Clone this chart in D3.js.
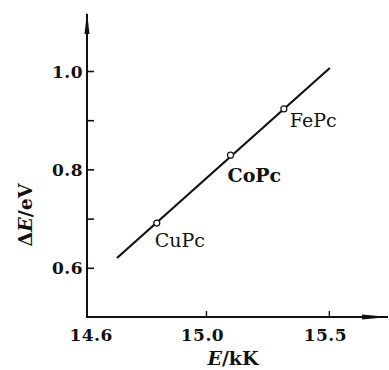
<!DOCTYPE html>
<html><head><meta charset="utf-8">
<script src="https://cdn.jsdelivr.net/npm/d3@7"></script>
<style>html,body{margin:0;padding:0;background:#fff;}svg{display:block;}</style>
</head><body>
<svg id="c" width="389" height="370"></svg>
<script>
const compounds = ["CuPc", "CoPc", "FePc"];
const energyKK = [14.80, 15.10, 15.317];
const deltaE = [0.691, 0.829, 0.923];
const fitX = [14.638, 15.504];
const fitY = [0.620, 1.006];
const xTickValues = [14.6, 15.0, 15.5];
const xTickLabels = ["14.6", "15.0", "15.5"];
const yTickValues = [0.6, 0.7, 0.8, 0.9, 1.0];
const yTickLabels = ["0.6", "", "0.8", "", "1.0"];

const svg = d3.select("#c");
const ink = "#111";
const serif = "'DejaVu Serif', 'Liberation Serif', serif";
const x = d3.scaleLinear().domain([14.516, 15.70]).range([87, 378]);
const y = d3.scaleLinear().domain([0.5, 1.0]).range([317, 71]);

// axes lines with arrows
svg.append("line").attr("x1", 87).attr("y1", y(0.5)).attr("x2", 87).attr("y2", 14)
  .attr("stroke", ink).attr("stroke-width", 2);
svg.append("path").attr("d", "M87,12 L84.5,34 L89.5,34 Z").attr("fill", ink);
svg.append("line").attr("x1", 86).attr("y1", y(0.5)).attr("x2", 388).attr("y2", y(0.5))
  .attr("stroke", ink).attr("stroke-width", 2);
svg.append("path").attr("d", `M389,${y(0.5)} L362,${y(0.5)-2.5} L362,${y(0.5)+2.5} Z`).attr("fill", ink);

// y axis ticks
const yAxis = d3.axisRight(y).tickValues(yTickValues).tickSize(7)
  .tickFormat((d, i) => yTickLabels[i]);
const gy = svg.append("g").attr("transform", "translate(87,0)").call(yAxis);
gy.attr("font-family", null).attr("font-size", null);
gy.select(".domain").remove();
gy.selectAll(".tick line").attr("stroke", ink).attr("stroke-width", 1.6);
gy.selectAll(".tick text").attr("x", -4).attr("text-anchor", "end")
  .style("font-family", serif).style("font-weight", "bold")
  .style("font-size", "17px").style("letter-spacing", "0.5px")
  .attr("fill", ink).attr("dy", "0.36em");

// x axis ticks
const xAxis = d3.axisTop(x).tickValues(xTickValues).tickSize(6)
  .tickFormat((d, i) => xTickLabels[i]);
const gx = svg.append("g").attr("transform", `translate(0,${y(0.5)})`).call(xAxis);
gx.attr("font-family", null).attr("font-size", null);
gx.select(".domain").remove();
gx.selectAll(".tick line").attr("stroke", ink).attr("stroke-width", 1.4)
  .attr("opacity", (d) => d === 14.6 ? 0 : 1);
gx.selectAll(".tick text").attr("y", 24).attr("dy", 0)
  .attr("dx", (d) => d === 14.6 ? -17 : -4)
  .style("font-family", serif).style("font-weight", "bold")
  .style("font-size", "17px").style("letter-spacing", "0.5px")
  .attr("fill", ink);

// fit line
svg.append("line")
  .attr("x1", x(fitX[0])).attr("y1", y(fitY[0]))
  .attr("x2", x(fitX[1])).attr("y2", y(fitY[1]))
  .attr("stroke", ink).attr("stroke-width", 2.2);

// points
const pts = compounds.map((c, i) => ({c, e: energyKK[i], d: deltaE[i]}));
svg.selectAll("circle.pt").data(pts).enter().append("circle")
  .attr("class", "pt").attr("cx", d => x(d.e)).attr("cy", d => y(d.d)).attr("r", 3)
  .attr("fill", "#fff").attr("stroke", ink).attr("stroke-width", 1.2);

const labelOffsets = {CuPc: [-2, 24], CoPc: [-3, 27], FePc: [6, 18]};
svg.selectAll("text.lab").data(pts).enter().append("text")
  .attr("class", "lab")
  .attr("x", d => x(d.e) + labelOffsets[d.c][0])
  .attr("y", d => y(d.d) + labelOffsets[d.c][1])
  .style("font-family", serif).style("font-size", "19px")
  .style("font-weight", d => d.c === "CoPc" ? "bold" : "normal")
  .attr("fill", ink).text(d => d.c);

// axis titles
svg.append("text").attr("transform", "translate(32,215) rotate(-90)")
  .attr("text-anchor", "middle").style("font-family", serif)
  .style("font-weight", "bold").style("font-size", "19px").attr("fill", ink)
  .html('Δ<tspan font-style="italic">E</tspan>/eV');
svg.append("text").attr("x", 233).attr("y", 365)
  .attr("text-anchor", "middle").style("font-family", serif)
  .style("font-weight", "bold").style("font-size", "19px").attr("fill", ink)
  .html('<tspan font-style="italic">E</tspan>/kK');
</script>
</body></html>
